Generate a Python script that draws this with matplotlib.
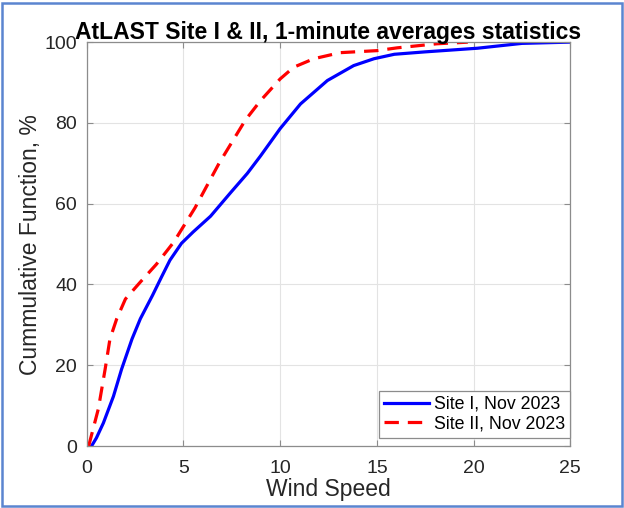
import matplotlib
matplotlib.use("Agg")
import matplotlib.pyplot as plt
from matplotlib.patches import Rectangle

# wind speed (x) and cumulative percentage (y)
site1_speed = [0.25, 0.5, 0.86, 1.38, 1.8, 2.34, 2.77, 3.4, 3.86, 4.3, 4.9, 5.5,
               6.4, 7.43, 8.3, 8.98, 10.0, 11.05, 12.44, 13.8, 14.85, 15.9,
               17.5, 20.2, 22.5, 24.9]
site1_cdf = [0, 2, 5.7, 12.3, 19, 26.5, 31.5, 37.3, 41.8, 46, 50.2, 53,
             56.9, 62.7, 67.5, 71.8, 78.6, 84.7, 90.5, 94.2, 95.9, 97,
             97.6, 98.5, 99.7, 100]

site2_speed = [0.1, 0.6, 0.95, 1.2, 1.55, 2.0, 2.77, 3.6, 4.5, 5.6, 6.84, 8.2,
               8.98, 10.0, 10.7, 11.74, 13.1, 15.0, 16.06, 18.1, 19.7]
site2_cdf = [0, 9.2, 19, 26.5, 31.5, 36.4, 40.6, 45, 50.5, 59, 70, 80.7,
             85.5, 90.9, 93.8, 95.9, 97.4, 97.9, 98.6, 99.6, 100]

labels = ["Site I, Nov 2023", "Site II, Nov 2023"]
xticks = [0, 5, 10, 15, 20, 25]
yticks = [0, 20, 40, 60, 80, 100]

plt.rcParams["font.family"] = ["Liberation Sans", "DejaVu Sans"]

fig = plt.figure(figsize=(6.24, 5.08), dpi=100)
ax = fig.add_axes([0.139, 0.122, 0.775, 0.795])

ax.plot(site1_speed, site1_cdf, color="#0000ff", lw=2.3, label=labels[0],
        solid_joinstyle="round")
ax.plot(site2_speed, site2_cdf, color="#ff0000", lw=2.3, ls=(0, (4.5, 2.8)),
        label=labels[1])

ax.set_xlim(0, 25)
ax.set_ylim(0, 100)
ax.set_xticks(xticks)
ax.set_yticks(yticks)
ax.grid(True, color="#e3e3e3", lw=0.8)
ax.set_axisbelow(True)
for s in ax.spines.values():
    s.set_color("#8c8c8c")
    s.set_linewidth(0.9)
ax.tick_params(direction="in", length=4, color="#8c8c8c", labelsize=14,
               labelcolor="#262626", top=True, right=True)
ax.tick_params(axis="y", pad=7)
ax.tick_params(axis="x", pad=10)

ax.set_title("AtLAST Site I & II, 1-minute averages statistics",
             fontsize=16.5, fontweight="bold", pad=2)
ax.set_xlabel("Wind Speed", fontsize=16.5, color="#262626", labelpad=1)
ax.set_ylabel("Cummulative Function, %", fontsize=16.5, color="#262626",
              labelpad=2)

leg = ax.legend(loc="lower right", bbox_to_anchor=(1.0, 0.02), fontsize=12.8,
                handlelength=2.5, borderaxespad=0, fancybox=False, framealpha=1,
                handletextpad=0.3, borderpad=0.3, labelspacing=0.15)
leg.get_frame().set_edgecolor("#8c8c8c")
leg.get_frame().set_linewidth(0.9)

# blue frame around the whole picture
fig.patches.append(Rectangle((0.004, 0.003), 0.992, 0.991, transform=fig.transFigure,
                             fill=False, edgecolor="#5b85d0", lw=1.8))

fig.savefig("out.png", dpi=100)
